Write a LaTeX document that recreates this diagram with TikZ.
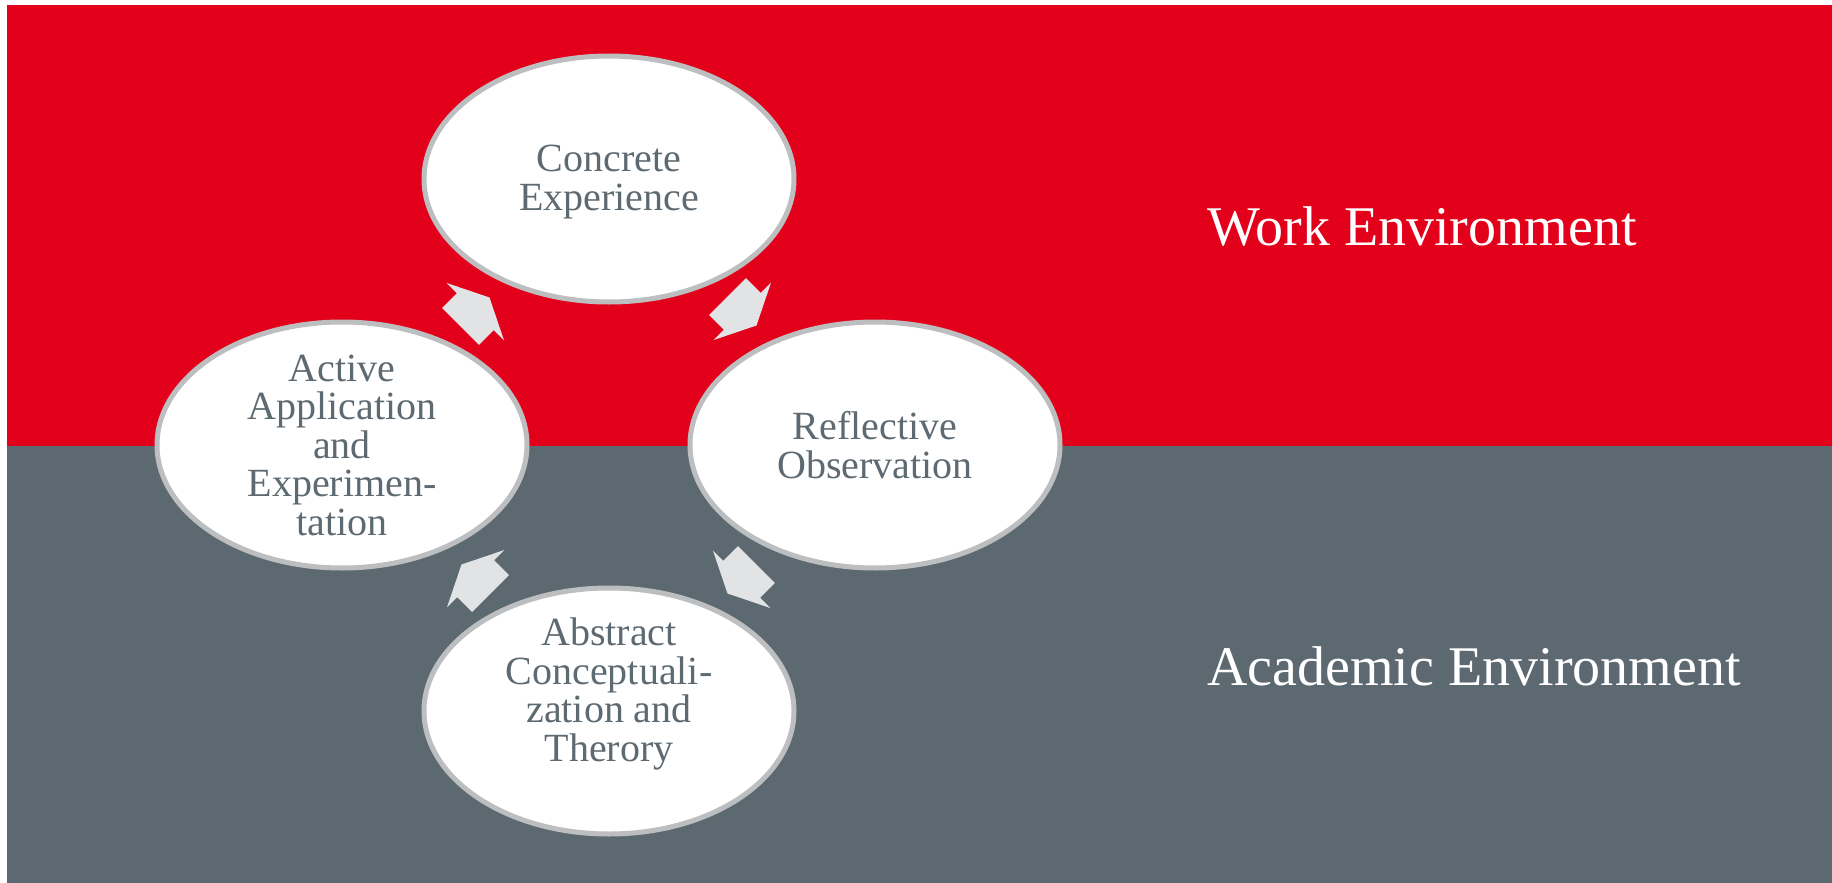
\documentclass[tikz,border=0pt]{standalone}
\usepackage{fontspec}
\setmainfont{Liberation Serif}
\usetikzlibrary{shapes.geometric}
\definecolor{kred}{HTML}{E2001A}
\definecolor{kgray}{HTML}{5D6971}
\definecolor{ktext}{HTML}{5E6A72}
\definecolor{kborder}{HTML}{BCBEC0}
\definecolor{karrow}{HTML}{E2E3E5}
\tikzset{
  stage/.style={ellipse, draw=kborder, line width=5pt, fill=white,
    minimum width=370pt, minimum height=246pt, inner sep=0pt},
  stagetext/.style={inner sep=0pt, align=center, text=ktext,
    font=\fontsize{40}{38.5}\selectfont},
  envlabel/.style={anchor=base west, inner sep=0pt, text=white,
    font=\fontsize{56}{60}\selectfont},
  blockarrow/.style={fill=karrow}
}
\newcommand{\cyclearrow}[3]{%
  \begin{scope}[shift={(#1,#2)}, rotate=#3]
    \fill[blockarrow] (-20.5,-26) -- (0.5,-26) -- (0.5,-40.5) -- (20.5,0)
      -- (0.5,40.5) -- (0.5,26) -- (-20.5,26) -- cycle;
  \end{scope}}
\begin{document}
\begin{tikzpicture}[x=1pt,y=-1pt]
\useasboundingbox (0,0) rectangle (1832,883);
\fill[kred] (7,5) rectangle (1832,446);
\fill[kgray] (7,446) rectangle (1832,883);
\node[stage] (ce) at (609,179) {};
\node[stage] (ro) at (875,445) {};
\node[stage] (ac) at (609,711) {};
\node[stage] (aa) at (342,445) {};
\node[stagetext] (cet) at ([yshift=-3pt]ce.center) {Concrete\\Experience};
\node[stagetext] (rot) at (ro.center) {Reflective\\Observation};
\node[stagetext] (act) at ([yshift=17pt]ac.center) {Abstract\\Conceptuali-\\zation and\\Therory};
\node[stagetext] (aat) at (aa.center) {Active\\Application\\and\\Experimen-\\tation};
\cyclearrow{475}{312}{45}
\cyclearrow{742}{311}{-45}
\cyclearrow{742}{579}{-135}
\cyclearrow{476}{579}{135}
\node[envlabel] (work) at (1207,245) {Work Environment};
\node[envlabel] (acad) at (1207,685) {Academic Environment};
\end{tikzpicture}
\end{document}
